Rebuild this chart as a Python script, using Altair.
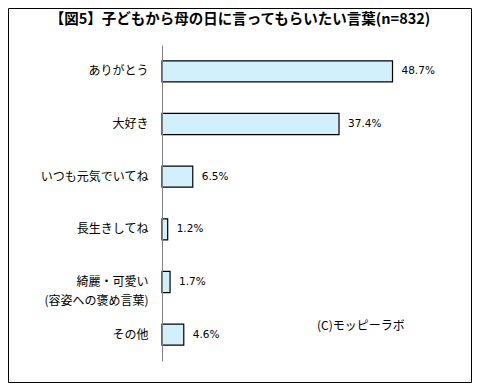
import altair as alt
import pandas as pd

categories = ["ありがとう", "大好き", "いつも元気でいてね", "長生きしてね",
              "綺麗・可愛い\n(容姿への褒め言葉)", "その他"]
values = [48.7, 37.4, 6.5, 1.2, 1.7, 4.6]
value_labels = ["48.7%", "37.4%", "6.5%", "1.2%", "1.7%", "4.6%"]
title_text = ["【図5】子どもから母の日に言ってもらいたい言葉(n=832)"]
credit_text = ["(C)モッピーラボ"]

df = pd.DataFrame({"cat": categories, "val": values, "lab": value_labels})

JP = "Noto Sans CJK JP"
W, H = 284, 316
PL, PT = 154, 37
TOTW, TOTH = 464, 375

yscale = alt.Scale(domain=categories, paddingInner=0.6, paddingOuter=0.3)
xscale = alt.Scale(domain=[0, 60])

y_axis = alt.Axis(title=None, domainColor="#808080", domainWidth=1, ticks=False,
                  labelPadding=14, labelFontSize=12, labelFont=JP, labelColor="black",
                  labelExpr="split(datum.label, '\\n')", labelLineHeight=19,
                  labelLimit=300, zindex=1, grid=False)

Y = alt.Y("cat:N", scale=yscale, sort=categories, axis=y_axis)
X = alt.X("val:Q", scale=xscale, axis=None)

bars = alt.Chart(df).mark_bar(fill="#D2EFFC", stroke="black", strokeWidth=1.2).encode(
    x=X, y=Y)

texts = alt.Chart(df).mark_text(align="left", baseline="middle", dx=9, fontSize=10.5,
                                font="DejaVu Sans", color="black").encode(
    x=X, y=Y, text="lab:N")

tdf = pd.DataFrame({"t": title_text})
title = alt.Chart(tdf).mark_text(fontSize=14.5, fontWeight="bold", font=JP, color="black",
                                 align="center", baseline="middle").encode(
    x=alt.value(78), y=alt.value(-25), text="t:N")

cdf = pd.DataFrame({"t": credit_text})
credit = alt.Chart(cdf).mark_text(fontSize=12, font=JP, color="black",
                                  align="left", baseline="middle").encode(
    x=alt.value(155), y=alt.value(281), text="t:N")

border = alt.Chart(tdf).mark_rect(fill=None, stroke="black", strokeWidth=1).encode(
    x=alt.value(-PL + 0.5), x2=alt.value(TOTW - PL - 0.5),
    y=alt.value(-PT + 0.5), y2=alt.value(TOTH - PT - 0.5))

chart = alt.layer(bars, texts, title, credit, border).properties(
    width=W, height=H,
    autosize=alt.AutoSizeParams(type="none"),
    padding={"left": PL, "top": PT, "right": TOTW - PL - W, "bottom": TOTH - PT - H},
    background="white",
).configure_view(stroke=None)

chart.save("out.html", embed_options={"renderer": "svg", "actions": False})
